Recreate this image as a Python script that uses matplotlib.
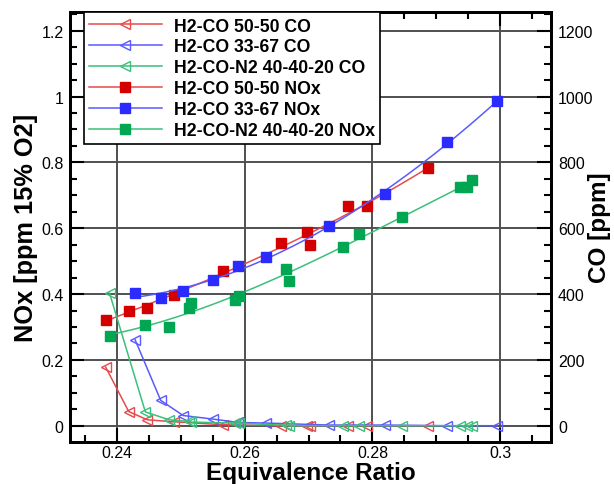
import numpy as np
import matplotlib
matplotlib.use('Agg')
import matplotlib.pyplot as plt
from matplotlib.ticker import MultipleLocator, FuncFormatter

plt.rcParams['font.family'] = ['Liberation Sans', 'DejaVu Sans']

# Dados
phi_5050 = [0.2383, 0.2419, 0.2448, 0.2489, 0.2566, 0.2657, 0.2698, 0.2703, 0.2762, 0.2792, 0.2886]
nox_5050 = [0.320, 0.349, 0.359, 0.396, 0.471, 0.556, 0.588, 0.548, 0.669, 0.666, 0.783]
co_5050 = [178, 43, 18, 12, 3, 0, 0, 0, 0, 0, 0]

phi_3367 = [0.2429, 0.2469, 0.2504, 0.2551, 0.2590, 0.2634, 0.2732, 0.2820, 0.2917, 0.2995]
nox_3367 = [0.404, 0.387, 0.409, 0.442, 0.485, 0.512, 0.607, 0.703, 0.863, 0.986]
co_3367 = [261, 77, 31, 20, 10, 8, 2, 2, 0, 0]

phi_n2 = [0.2389, 0.2445, 0.2482, 0.2513, 0.2517, 0.2585, 0.2591, 0.2665, 0.2670,
          0.2754, 0.2779, 0.2846, 0.2937, 0.2947, 0.2955]
nox_n2 = [0.274, 0.305, 0.300, 0.357, 0.373, 0.383, 0.395, 0.475, 0.439,
          0.543, 0.583, 0.634, 0.724, 0.724, 0.748]
co_n2 = [403, 42, 18, 13, 11, 8, 8, 1, 0, 0, 0, 0, 0, 0, 0]

red = '#d40000'
blue = '#2b2bff'
green = '#00a651'
red_l = '#e64b4b'
blue_l = '#5a5aff'
green_l = '#3cbf7a'

fig = plt.figure(figsize=(6.14, 4.85), dpi=100)
ax = fig.add_axes([0.1148, 0.0872, 0.7826, 0.8854])
ax2 = ax.twinx()

handles = []
# CO (eixo direito)
for phi, co, c, lab in [(phi_5050, co_5050, red_l, 'H2-CO 50-50 CO'),
                        (phi_3367, co_3367, blue_l, 'H2-CO 33-67 CO'),
                        (phi_n2, co_n2, green_l, 'H2-CO-N2 40-40-20 CO')]:
    h, = ax2.plot(phi, co, color=c, lw=1.1, marker='<', ms=7.5, mfc='none',
                  mec=c, mew=1.0, label=lab)
    handles.append(h)

# NOx (eixo esquerdo) com ajuste polinomial
for phi, nox, c, cl, lab in [(phi_5050, nox_5050, red, red_l, 'H2-CO 50-50 NOx'),
                             (phi_3367, nox_3367, blue, blue_l, 'H2-CO 33-67 NOx'),
                             (phi_n2, nox_n2, green, green_l, 'H2-CO-N2 40-40-20 NOx')]:
    p = np.polyfit(phi, nox, 3)
    xx = np.linspace(min(phi), max(phi), 200)
    ax.plot(xx, np.polyval(p, xx), color=cl, lw=1.1)
    ax.plot(phi, nox, ls='none', marker='s', ms=6.5, color=c, mec=c)
    h, = ax.plot([], [], color=cl, lw=1.1, marker='s', ms=6.5, mfc=c, mec=c, label=lab)
    handles.append(h)

ax.set_xlim(0.2328, 0.3079)
ax.set_ylim(-0.0486, 1.256)
ax2.set_ylim(-48.6, 1256)

ax.xaxis.set_major_locator(MultipleLocator(0.02))
ax.xaxis.set_minor_locator(MultipleLocator(0.005))
ax.yaxis.set_major_locator(MultipleLocator(0.2))
ax.yaxis.set_minor_locator(MultipleLocator(0.05))
ax2.yaxis.set_major_locator(MultipleLocator(200))
ax2.yaxis.set_minor_locator(MultipleLocator(50))
fmt = FuncFormatter(lambda v, pos: '%g' % round(v, 4))
ax.xaxis.set_major_formatter(fmt)
ax.yaxis.set_major_formatter(fmt)

ax.grid(True, which='major', color='#505050', lw=1.4)
ax.set_axisbelow(True)

for a in (ax, ax2):
    for s in a.spines.values():
        s.set_linewidth(2)
ax.tick_params(which='both', direction='in', top=True, labelsize=11.5, width=1.5)
ax.tick_params(which='major', length=10)
ax.tick_params(which='minor', length=5)
ax.tick_params(axis='x', pad=2.5)
ax.tick_params(axis='y', right=False, pad=5)
ax2.tick_params(which='both', direction='in', labelsize=11.5, width=1.5, pad=5)
ax2.tick_params(which='major', length=10)
ax2.tick_params(which='minor', length=5)

ax.set_xlabel('Equivalence Ratio', fontsize=17.5, fontweight='bold')
ax.xaxis.set_label_coords(0.5, -0.045)
ax.set_ylabel('NOx [ppm 15% O2]', fontsize=18.3, fontweight='bold', labelpad=2)
ax2.set_ylabel('CO [ppm]', fontsize=17.5, fontweight='bold', rotation=90)
ax2.yaxis.set_label_coords(1.076, 0.5)

leg = ax2.legend(handles=handles, loc='upper left', bbox_to_anchor=(0.028, 1.0),
                 prop={'weight': 'bold', 'size': 12.7}, handlelength=4.1,
                 handletextpad=0.7, labelspacing=0.22, borderpad=0.3,
                 borderaxespad=0, fancybox=False, framealpha=1, edgecolor='black')
leg.get_frame().set_linewidth(1.2)

fig.savefig('out.png', dpi=100)
